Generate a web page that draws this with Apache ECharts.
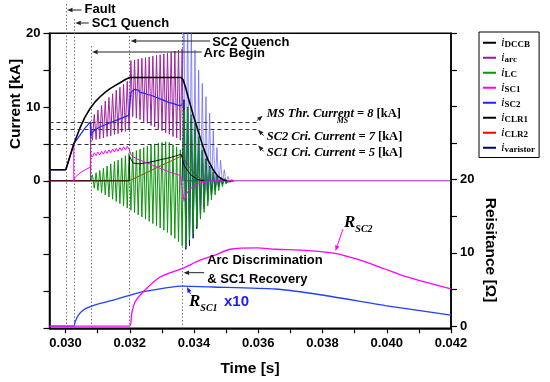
<!DOCTYPE html>
<html>
<head>
<meta charset="utf-8">
<script src="https://cdn.jsdelivr.net/npm/echarts@6.0.0/dist/echarts.min.js"></script>
<style>
html,body{margin:0;padding:0;background:#fff;}
#chart{width:550px;height:382px;}
</style>
</head>
<body>
<div id="chart"></div>
<script>
// ---------------- data (time in ms, current in kA, resistance in ohm) ----------------
const xTickVals = [30,31,32,33,34,35,36,37,38,39,40,41,42];
const xLabelVals = [30,32,34,36,38,40,42];
const yLeftLabelVals = [0,10,20];
const yRightTickVals = [0,5,10,15,20,25,30,35,40];
const yRightLabelVals = [0,10,20];

const eventTimes = [30.0, 30.256, 30.78, 31.98, 33.63];
const thresholdVals = [8, 7, 5];
const thresholdEnd = 35.95;
const thresholdTexts = ['MS Thr. Current = 8 ', 'SC2 Cri. Current = 7 ', 'SC1 Cri. Current = 5 '];

const legendNames = ['iDCCB','iarc','iLC','iSC1','iSC2','iCLR1','iCLR2','ivaristor'];
const legendSubs  = ['DCCB','arc','LC','SC1','SC2','CLR1','CLR2','varistor'];
const legendColors = ['#000000','#9A1A9A','#0A960A','#FF00FF','#2222FF','#000000','#FF0000','#000080'];

// oscillation time grid (half periods)
const oscT = [30.780,30.837,30.894,30.951,31.008,31.065,31.122,31.179,31.236,31.293,
31.350,31.407,31.464,31.521,31.578,31.635,31.692,31.749,31.806,31.863,
31.920,31.977,32.034,32.091,32.148,32.205,32.262,32.319,32.376,32.433,
32.490,32.547,32.604,32.661,32.718,32.775,32.832,32.889,32.946,33.003,
33.060,33.117,33.174,33.231,33.288,33.345,33.402,33.459,33.516,33.573,
33.630,33.687,33.744,33.801,33.858,33.915,33.972,34.029,34.086,34.143,
34.200,34.257,34.314,34.371,34.428,34.485,34.542,34.599,34.656,34.713,
34.770,34.827,34.884,34.941,34.998,35.055,35.112,35.169,35.226];

// i_arc on oscT[0..51]
const arcOsc = [8.0,5.5,9.0,5.6,9.6,5.7,10.2,5.8,10.8,6.0,11.3,6.1,11.8,6.3,12.3,6.4,12.7,6.6,13.1,6.7,13.5,6.9,
16.3,8.7,16.4,8.5,16.5,8.3,16.6,8.0,16.7,7.8,16.8,7.5,16.9,7.3,17.0,7.0,17.1,6.8,17.2,6.5,17.3,6.3,17.4,6.0,17.6,5.8,17.7,5.5,17.9,
0];
// i_LC on oscT[0..78]
const lcOsc = [0,0.8,-1.0,1.1,-1.3,1.4,-1.6,1.7,-1.9,2.0,-2.2,2.3,-2.5,2.6,-2.8,2.8,-3.1,3.1,-3.4,3.4,-3.7,3.7,
-4.0,3.9,-4.3,4.1,-4.6,4.3,-4.9,4.5,-5.2,4.7,-5.5,4.9,-5.8,5.0,-6.1,5.1,-6.4,5.2,-6.7,5.3,-7.0,5.2,-7.4,4.9,-7.8,4.6,-8.3,4.2,-8.8,
9.6,-9.0,9.9,-8.0,9.0,-7.2,7.8,-6.2,6.0,-5.2,4.2,-4.3,2.8,-3.4,1.8,-2.6,1.2,-1.9,0.8,-1.3,0.5,-0.8,0.3,-0.45,0.1,-0.2,0.05,0];
// i_SC1
const sc1PreT = [29.5,30.007,30.256,30.257,30.30,30.40,30.55,30.77];
const sc1PreV = [1.5,1.5,5.0,0,0.45,0.9,1.35,1.85];
const sc1Osc = [3.6,3.2,3.8,3.4,3.9,3.5,4.0,3.6,4.1,3.7,4.2,3.8,4.3,3.9,4.4,4.0,4.5,4.1,4.6,4.2,4.7,4.3,
3.6,3.3,3.2,3.0,3.0,2.8,2.8,2.6,2.6,2.4,2.4,2.2,2.2,2.0,1.9,1.8,1.7,1.6,1.5,1.4,1.3,1.2,1.1,1.0,1.0,0.9,0.8,0.7,0.6,
-2.7,-2.0,-1.5,-1.2,-1.0,-0.8,-0.6,-0.5,-0.4,-0.3,-0.25,-0.2,-0.15,-0.1,-0.05,0,0,0,0,0,0,0,0,0,0,0,0,0];
// i_SC2
const sc2PreT = [29.5,30.007,30.256,30.45,30.6,30.77];
const sc2PreV = [1.5,1.5,5.0,6.2,7.1,8.0];
const sc2Main = [6.0,6.6,6.5,7.0,6.8,7.3,7.1,7.5,7.3,7.7,7.5,7.9,7.7,8.1,7.9,8.3,8.1,8.5,8.3,8.7,8.5,8.9,
12.0,12.2,12.4,12.2,12.3,12.0,12.2,11.9,12.0,11.7,11.9,11.6,11.7,11.4,11.5,11.2,11.3,11.0,11.1,10.8,10.9,10.6,10.8,10.5,10.6,10.3,10.5,10.2,10.3];
// i_SC2 after arc discrimination, on oscT[50..78]
const sc2Spk = [10.3,24,-8.5,24,-8.0,22,-7.0,17.7,-6.0,15.0,-4.5,13.2,-3.5,11.4,-2.5,9.2,-1.8,6.8,-1.2,4.5,-0.8,2.8,-0.5,1.5,-0.3,0.6,-0.1,0.2,0];
// i_varistor on oscT[50..78]
const varOsc = [0,11.0,-9.3,10.0,-8.8,8.5,-7.8,7.0,-6.5,5.5,-5.0,4.0,-3.8,3.0,-2.8,2.0,-2.0,1.2,-1.3,0.6,-0.8,0.3,-0.4,0.1,-0.2,0,-0.1,0,0];
// i_DCCB
const dccbT = [29.5,30.007,30.256,30.452,30.6,30.764,30.92,31.075,31.23,31.386,31.54,31.697,31.85,31.987,33.6,33.66,33.72,33.814,33.969,34.125,34.28,34.436,34.592,34.747,34.903,35.03];
const dccbV = [1.5,1.5,5.0,7.2,8.6,9.8,10.7,11.4,12.0,12.5,12.9,13.3,13.7,14.0,14.0,13.7,12.9,11.4,9.0,6.8,4.6,2.8,1.5,0.6,0.15,0];
// i_CLR1, i_CLR2
const clr1T = [29.5,31.98,31.995,32.1,32.3,32.6,33.0,33.3,33.6,33.7,33.9,34.1,34.3];
const clr1V = [0,0,3.3,2.4,2.3,2.5,2.9,3.2,3.6,2.0,0.8,0.2,0];
const clr2T = [29.5,31.98,33.63,33.8,34.0,34.2,34.4];
const clr2V = [0,0,3.4,2.2,1.0,0.3,0];
// resistances (R_SC1 shown x10)
const rsc1T = [29.5,30.256,30.297,30.40,30.555,30.764,31.075,31.595,31.987,32.423,33.627,34.592,36.521,37.984,39.945,42.0];
const rsc1V = [0,0,0.6,1.5,2.2,2.65,3.1,3.7,4.2,4.7,5.45,5.34,5.07,4.25,2.8,1.5];
const rsc2T = [29.5,31.987,32.061,32.164,32.423,32.942,33.627,34.187,34.654,35.121,35.961,36.521,37.455,38.389,39.105,39.945,40.568,42.0];
const rsc2V = [0,0,1.75,3.3,4.7,6.7,7.85,9.0,9.7,10.5,10.7,10.5,10.35,9.95,9.1,7.8,6.8,5.1];

// ---------------- build ----------------
const SANS = '"Liberation Sans", Arial, sans-serif';
const SERIF = '"Liberation Serif", "Times New Roman", serif';
const zip = (t, v) => v.map((y, i) => [t[i], y]);
const oscPart = (vals, start) => vals.map((v, i) => [oscT[start + i], v]);

const arcData = [[29.5,0],[30.775,0]].concat(oscPart(arcOsc,0)).concat([[42,0]]);
const lcData = oscPart(lcOsc,0);
const sc1Data = zip(sc1PreT, sc1PreV).concat(oscPart(sc1Osc,0));
const sc2Data = zip(sc2PreT, sc2PreV).concat(oscPart(sc2Main,0));
const sc2SpkData = oscPart(sc2Spk,50);
const varData = oscPart(varOsc,50);

function line(name, data, color, extra) {
  return Object.assign({
    type:'line', name, data, showSymbol:false, symbol:'none', clip:true,
    animation:false, emphasis:{disabled:true},
    itemStyle:{color}, lineStyle:{color, width:1}
  }, extra || {});
}

const chart = echarts.init(document.getElementById('chart'), null, {renderer:'canvas'});
const axisFont = {fontFamily:SANS, fontWeight:'bold', fontSize:13, color:'#000'};

const option = {
  animation:false,
  backgroundColor:'#fff',
  grid:{left:49.5, right:99, top:33.3, bottom:53.7, show:true, borderColor:'#000', borderWidth:1.5},
  legend:{
    orient:'vertical', left:479, top:32, padding:[4,4,3,4], itemGap:1.5,
    itemWidth:13, itemHeight:2, icon:'rect',
    borderColor:'#000', borderWidth:1, backgroundColor:'#fff',
    data: legendNames.map((n,i)=>({name:n, itemStyle:{color:legendColors[i]}})),
    formatter: n => '{i|i}{s|' + legendSubs[legendNames.indexOf(n)] + '}',
    textStyle:{
      rich:{
        i:{fontFamily:SERIF, fontStyle:'italic', fontSize:13, lineHeight:13.5, verticalAlign:'top', color:'#000'},
        s:{fontFamily:SERIF, fontWeight:'bold', fontSize:9, lineHeight:13.5, verticalAlign:'bottom', color:'#000'}
      }
    }
  },
  xAxis:{
    type:'value', min:29.5, max:42,
    axisLine:{onZero:false, lineStyle:{color:'#000', width:1.5}},
    axisTick:{customValues:xTickVals, length:5, lineStyle:{color:'#000', width:1.2}},
    axisLabel:Object.assign({customValues:xLabelVals, margin:9, formatter:v=>(v/1000).toFixed(3)}, axisFont),
    splitLine:{show:false}
  },
  yAxis:[
    {
      type:'value', min:-20, max:20, interval:5,
      axisLine:{show:true, onZero:false, lineStyle:{color:'#000', width:1.5}},
      axisTick:{show:true, length:6, lineStyle:{color:'#000', width:1.2}},
      axisLabel:Object.assign({customValues:yLeftLabelVals, margin:9}, axisFont),
      splitLine:{show:false}
    },
    {
      type:'value', position:'right', min:-0.3, max:40,
      axisLine:{show:true, onZero:false, lineStyle:{color:'#000', width:1.5}},
      axisTick:{show:true, customValues:yRightTickVals, length:6, lineStyle:{color:'#000', width:1.2}},
      axisLabel:Object.assign({customValues:yRightLabelVals, margin:9}, axisFont),
      splitLine:{show:false}
    }
  ],
  series:[
    line('iarc', arcData, '#A024A0'),
    line('iCLR2', zip(clr2T, clr2V), '#FF0000', {lineStyle:{color:'#FF0000', width:0.9}}),
    line('iSC2', sc2SpkData, '#4848FF', {lineStyle:{color:'#4848FF', width:1, opacity:0.6}}),
    line('ivaristor', varData, '#000080'),
    line('iLC', lcData, '#0A960A'),
    line('iSC2', sc2Data, '#2222FF', {lineStyle:{color:'#2222FF', width:1.2}}),
    line('iCLR1', zip(clr1T, clr1V), '#000000', {lineStyle:{color:'#000', width:0.9}}),
    line('iSC1', sc1Data, '#FF00FF'),
    line('RSC1', zip(rsc1T, rsc1V), '#2040FF', {yAxisIndex:1, smooth:0.2, lineStyle:{color:'#2040FF', width:1.3}}),
    line('RSC2', zip(rsc2T, rsc2V), '#FF00FF', {yAxisIndex:1, smooth:0.3, lineStyle:{color:'#FF00FF', width:1.3}}),
    line('iDCCB', zip(dccbT, dccbV), '#000000', {
      lineStyle:{color:'#000', width:1.6},
      markLine:{
        silent:true, symbol:['none','none'], label:{show:false}, animation:false,
        lineStyle:{type:[4,3], color:'#333', width:1},
        data: thresholdVals.map(v => [{coord:[29.5, v]}, {coord:[thresholdEnd, v]}])
      }
    })
  ]
};
chart.setOption(option);

// ---------------- annotations ----------------
function arrow(x1, y1, x2, y2, color) {
  const a = Math.atan2(y2 - y1, x2 - x1), L = 5.5, W = 2.2;
  const bx = x2 - L*Math.cos(a), by = y2 - L*Math.sin(a);
  const nx = -Math.sin(a)*W, ny = Math.cos(a)*W;
  return [
    {type:'line', z:100, silent:true, shape:{x1, y1, x2:bx, y2:by}, style:{stroke:color, lineWidth:1}},
    {type:'polygon', z:100, silent:true, shape:{points:[[x2,y2],[bx+nx,by+ny],[bx-nx,by-ny]]}, style:{fill:color}}
  ];
}
function txt(text, x, y, o) {
  return {type:'text', z:100, silent:true, x, y, rotation:(o && o.rotation) || 0,
    style:Object.assign({text, fill:'#000', fontFamily:SANS, fontWeight:'bold', fontSize:13, align:'left', verticalAlign:'middle'}, (o && o.style) || {})};
}
const X = t => chart.convertToPixel({xAxisIndex:0}, t);
const Y = v => chart.convertToPixel({yAxisIndex:0}, v);
const g = [];
const yBot = Y(-20);
const evTop = [4, 19, 46, 36, 33];
eventTimes.forEach((t, i) => {
  const x = Math.round(X(t)) + 0.5;
  g.push({type:'line', z:1, silent:true, shape:{x1:x, y1:evTop[i], x2:x, y2:yBot}, style:{stroke:'#777', lineWidth:1, lineDash:[1.5,2]}});
});
const [xF, xQ1, xAB, xQ2, xAD] = eventTimes.map(X);
const ac = '#222';
g.push(...arrow(xF+16, 10, xF+1.5, 10, ac), txt('Fault', xF+19, 9.5));
g.push(...arrow(xQ1+15, 23, xQ1+1.5, 23, ac), txt('SC1 Quench', xQ1+18, 23));
g.push(...arrow(xQ2+81, 41, xQ2+1.5, 41, ac), txt('SC2 Quench', xQ2+83, 42.5));
g.push(...arrow(xAB+111, 52, xAB+1.5, 52, ac), txt('Arc Begin', xAB+113, 53.5));
g.push(...arrow(xAD+22, 272.7, xAD+1.5, 272.7, ac), txt('Arc Discrimination', xAD+25, 260), txt('& SC1 Recovery', xAD+25, 279));

const xe = X(thresholdEnd);
const thrY = [114, 137, 153];
const thrRich = {
  a:{fontFamily:SERIF, fontStyle:'italic', fontWeight:'bold', fontSize:12.5, color:'#000'},
  b:{fontFamily:SERIF, fontWeight:'bold', fontSize:12.5, color:'#000'}
};
thresholdTexts.forEach((s, i) => {
  g.push(txt('{a|' + s + '}{b|[kA]}', xe+10, thrY[i], {style:{rich:thrRich}}));
});
g.push(txt('MS', xe+80, 121, {style:{fontFamily:SERIF, fontStyle:'italic', fontWeight:'bold', fontSize:8}}));
g.push(...arrow(xe, Y(8)-1, xe+6, Y(8)-6, ac));
g.push(...arrow(xe+7, Y(7)+6.5, xe+1.5, Y(7)+0.5, ac));
g.push(...arrow(xe+7, Y(5)+7.5, xe+1.5, Y(5)+1.5, ac));

const rRich = (c) => ({
  R:{fontFamily:SERIF, fontStyle:'italic', fontWeight:'bold', fontSize:17, lineHeight:20, verticalAlign:'top', color:c},
  s:{fontFamily:SERIF, fontStyle:'italic', fontWeight:'bold', fontSize:10, lineHeight:20, verticalAlign:'bottom', color:c}
});
g.push(txt('{R|R}{s|SC1}', 189, 303, {style:{rich:rRich('#1a1aff')}}));
g.push(txt('x10', 224, 301.5, {style:{fill:'#1a1aff', fontSize:15}}));
g.push(...arrow(190.5, 294, 187, 287, '#1a1aff'));
g.push(txt('{R|R}{s|SC2}', 344, 224, {style:{rich:rRich('#ff00ff')}}));
g.push(...arrow(343, 229, 335.5, 251, '#ff00ff'));

g.push(txt('Current [kA]', 16, 104, {rotation:Math.PI/2, style:{align:'center', fontSize:15.5}}));
g.push(txt('Reisitance [Ω]', 490, 250, {rotation:-Math.PI/2, style:{align:'center', fontSize:15.5}}));
g.push(txt('Time [s]', 250, 369, {style:{align:'center', fontSize:15.5}}));

chart.setOption({graphic:{elements:g}});
</script>
</body>
</html>
